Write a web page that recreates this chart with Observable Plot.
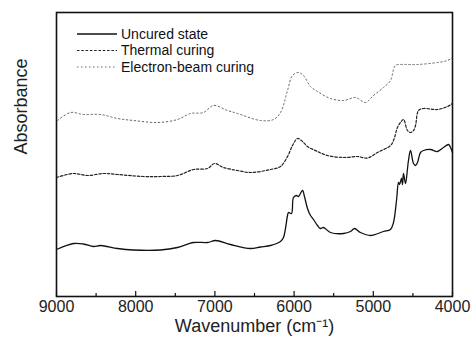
<!DOCTYPE html>
<html>
<head>
<meta charset="utf-8">
<script src="https://cdn.jsdelivr.net/npm/d3@7"></script>
<script src="https://cdn.jsdelivr.net/npm/@observablehq/plot@0.6"></script>
<style>
  html, body { margin: 0; padding: 0; background: #fff; }
  #wrap { position: relative; width: 475px; height: 347px; font-family: "Liberation Sans", Arial, sans-serif; }
  #legend { position: absolute; left: 0; top: 0; }
</style>
</head>
<body>
<div id="wrap"></div>
<script>
// ---- data ----
const uncuredWn  = [9000,8785,8659,8533,8444,8230,8028,7687,7472,7270,7093,6992,6803,6551,6424,6298,6172,6134,6083,6071,6033,6008,5970,5945,5894,5869,5831,5793,5755,5705,5667,5629,5541,5376,5288,5237,5162,5035,4871,4783,4745,4707,4682,4669,4644,4631,4619,4593,4568,4556,4530,4492,4467,4442,4404,4366,4278,4189,4114,4050,4025,4000];
const uncuredAbs = [0.47,0.53,0.525,0.50,0.51,0.48,0.465,0.465,0.49,0.54,0.54,0.56,0.52,0.48,0.495,0.51,0.55,0.59,0.81,0.84,0.83,0.99,1.01,1.00,1.06,1.00,0.88,0.81,0.77,0.71,0.68,0.69,0.64,0.63,0.65,0.68,0.64,0.61,0.65,0.67,0.74,0.96,1.14,1.12,1.18,1.12,1.23,1.13,1.28,1.36,1.46,1.33,1.31,1.34,1.44,1.46,1.47,1.45,1.49,1.52,1.49,1.44];

const thermalWn  = [9000,8785,8609,8407,8230,7902,7687,7472,7270,7093,7005,6891,6715,6551,6298,6172,6083,6020,5957,5894,5831,5705,5578,5376,5200,5073,4947,4783,4745,4695,4657,4619,4568,4530,4492,4467,4429,4366,4189,4063,4000];
const thermalAbs = [1.19,1.23,1.21,1.23,1.22,1.20,1.20,1.21,1.27,1.28,1.33,1.29,1.26,1.24,1.27,1.30,1.40,1.51,1.58,1.55,1.50,1.45,1.41,1.39,1.40,1.385,1.44,1.51,1.56,1.69,1.74,1.77,1.66,1.64,1.66,1.71,1.86,1.88,1.87,1.90,1.93];

const ebeamWn  = [8987,8823,8659,8444,8230,8028,7725,7472,7308,7144,7018,6841,6715,6424,6260,6172,6083,6020,5944,5881,5793,5705,5541,5376,5225,5099,4998,4871,4783,4720,4619,4442,4189,4063,4000];
const ebeamAbs = [1.76,1.84,1.82,1.82,1.78,1.76,1.74,1.77,1.83,1.84,1.91,1.86,1.83,1.76,1.77,1.84,2.06,2.21,2.24,2.21,2.10,2.05,1.98,1.96,1.99,1.94,2.01,2.09,2.16,2.31,2.32,2.32,2.34,2.36,2.39];

const seriesNames = ["Uncured state", "Thermal curing", "Electron-beam curing"];
const majorTicks = [9000, 8000, 7000, 6000, 5000, 4000];
const minorTicks = [8500, 7500, 6500, 5500, 4500];
const xTitle = "Wavenumber (cm\u207B\u00B9)";
const yTitle = "Absorbance";

// ---- build tables ----
const toRows = (wn, ab) => wn.map((w, i) => ({wn: w, abs: ab[i]}));
const uncured = toRows(uncuredWn, uncuredAbs);
const thermal = toRows(thermalWn, thermalAbs);
const ebeam = toRows(ebeamWn, ebeamAbs);

const styles = [
  {stroke: "#111", strokeWidth: 1.3, strokeDasharray: null},
  {stroke: "#222", strokeWidth: 1.2, strokeDasharray: "2.5,1.8"},
  {stroke: "#666", strokeWidth: 1.0, strokeDasharray: "1.5,2.5"}
];

const font = "Liberation Sans, Arial, sans-serif";

const chart = Plot.plot({
  width: 475,
  height: 347,
  marginLeft: 56,
  marginRight: 23,
  marginTop: 12,
  marginBottom: 51,
  style: {fontFamily: font, background: "#fff", color: "#111"},
  x: {domain: [9000, 4000]},
  y: {domain: [0, 2.84], axis: null},
  marks: [
    Plot.line(uncured, {x: "wn", y: "abs", curve: "catmull-rom", ...styles[0]}),
    Plot.line(thermal, {x: "wn", y: "abs", curve: "catmull-rom", ...styles[1]}),
    Plot.line(ebeam, {x: "wn", y: "abs", curve: "catmull-rom", ...styles[2]}),
    Plot.tickX(majorTicks, {x: d => d, insetTop: 279, stroke: "#111", strokeWidth: 1.2}),
    Plot.tickX(minorTicks, {x: d => d, insetTop: 281, stroke: "#111", strokeWidth: 1.2}),
    Plot.axisX({ticks: majorTicks, tickSize: 0, tickFormat: "d", label: null, fontSize: 16, tickPadding: 0, dy: 4, fill: "#222"}),
    Plot.text([xTitle], {frameAnchor: "bottom", dy: 35, fontSize: 18, fill: "#222"}),
    Plot.text([yTitle], {frameAnchor: "left", dx: -35, rotate: -90, fontSize: 18, fill: "#222"}),
    Plot.frame({stroke: "#111", strokeWidth: 1.6})
  ]
});

const wrap = document.getElementById("wrap");
wrap.appendChild(chart);

// ---- legend (inside the plot area, top-left) ----
const lg = d3.select(wrap).append("svg")
  .attr("id", "legend")
  .attr("width", 475).attr("height", 347)
  .style("pointer-events", "none");
const legendY = [34, 50.5, 67];
seriesNames.forEach((name, i) => {
  const s = styles[i];
  lg.append("line")
    .attr("x1", 77).attr("x2", 117)
    .attr("y1", legendY[i]).attr("y2", legendY[i])
    .attr("stroke", s.stroke).attr("stroke-width", s.strokeWidth)
    .attr("stroke-dasharray", s.strokeDasharray);
  lg.append("text")
    .attr("x", 121).attr("y", legendY[i])
    .attr("dy", "0.35em")
    .attr("font-family", font)
    .attr("font-size", 14)
    .attr("fill", "#111")
    .text(name);
});
</script>
</body>
</html>
